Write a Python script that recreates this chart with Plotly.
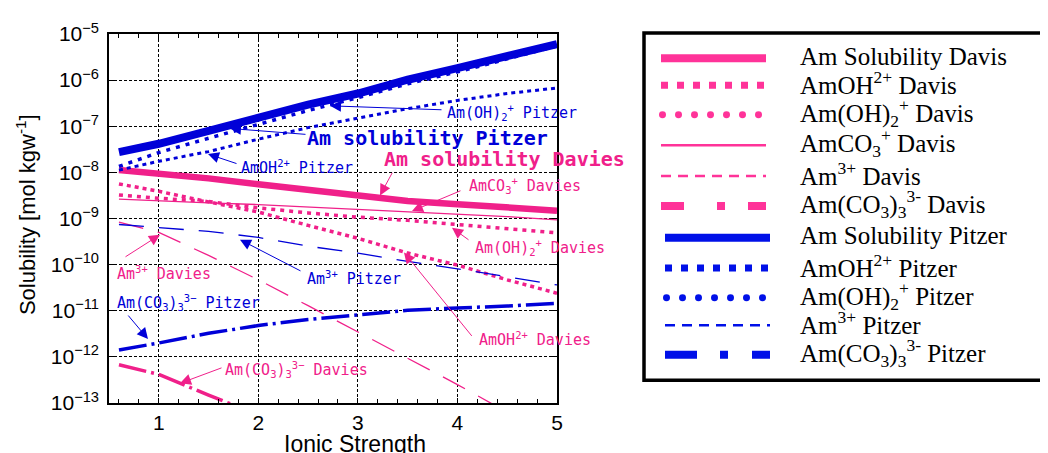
import plotly.graph_objects as go

# ---------------- data ----------------
ionic_strength = [0.6, 1.0, 1.5, 2.0, 2.5, 3.0, 3.5, 4.0, 4.5, 5.0]

am_sol_davies   = [1.12e-8, 9.55e-9, 7.41e-9, 5.50e-9, 4.07e-9, 3.09e-9, 2.40e-9, 2.04e-9, 1.74e-9, 1.48e-9]
amoh_davies     = [5.62e-9, 3.89e-9, 2.29e-9, 1.38e-9, 7.08e-10, 3.72e-10, 1.78e-10, 9.77e-11, 4.68e-11, 2.40e-11]
amoh2_davies    = [3.24e-9, 2.75e-9, 2.34e-9, 1.70e-9, 1.32e-9, 1.07e-9, 9.12e-10, 7.41e-10, 6.03e-10, 4.90e-10]
amco3_davies    = [2.63e-9, 2.40e-9, 2.19e-9, 2.00e-9, 1.78e-9, 1.58e-9, 1.41e-9, 1.26e-9, 1.10e-9, 9.33e-10]
am3_davies      = [8.32e-10, 5.01e-10, 1.58e-10, 4.68e-11, 1.29e-11, 3.47e-12, 9.55e-13, 2.51e-13, 6.31e-14, None]
amco33_davies   = [6.76e-13, 4.17e-13, 1.48e-13, 5.50e-14, None, None, None, None, None, None]

am_sol_pitzer   = [2.75e-8, 4.17e-8, 7.94e-8, 1.58e-7, 2.95e-7, 5.13e-7, 1.02e-6, 1.82e-6, 3.16e-6, 6.03e-6]
amoh_pitzer     = [1.12e-8, 1.74e-8, 2.82e-8, 5.25e-8, 9.33e-8, 1.48e-7, 2.40e-7, 3.63e-7, 5.13e-7, 6.76e-7]
amoh2_pitzer    = [1.35e-8, 2.69e-8, 5.50e-8, 1.12e-7, 2.19e-7, 4.17e-7, 8.32e-7, 1.51e-6, 2.88e-6, 5.50e-6]
am3_pitzer      = [7.41e-10, 6.46e-10, 5.25e-10, 3.89e-10, 2.51e-10, 1.78e-10, 1.17e-10, 8.13e-11, 5.50e-11, 3.63e-11]
amco33_pitzer   = [1.41e-12, 2.00e-12, 3.24e-12, 4.79e-12, 6.46e-12, 8.13e-12, 1.02e-11, 1.15e-11, 1.26e-11, 1.45e-11]

y_tick_vals = [1e-13, 1e-12, 1e-11, 1e-10, 1e-9, 1e-8, 1e-7, 1e-6, 1e-5]
y_tick_text = ["10<sup>\u221213</sup>", "10<sup>\u221212</sup>", "10<sup>\u221211</sup>",
               "10<sup>\u221210</sup>", "10<sup>\u22129</sup>", "10<sup>\u22128</sup>",
               "10<sup>\u22127</sup>", "10<sup>\u22126</sup>", "10<sup>\u22125</sup>"]
x_tick_vals = [1, 2, 3, 4, 5]

legend_labels = [
    "Am Solubility Davis", "AmOH<sup>2+</sup> Davis", "Am(OH)<sub>2</sub><sup>+</sup> Davis",
    "AmCO<sub>3</sub><sup>+</sup> Davis", "Am<sup>3+</sup> Davis", "Am(CO<sub>3</sub>)<sub>3</sub><sup>3-</sup> Davis",
    "Am Solubility Pitzer", "AmOH<sup>2+</sup> Pitzer", "Am(OH)<sub>2</sub><sup>+</sup> Pitzer",
    "Am<sup>3+</sup> Pitzer", "Am(CO<sub>3</sub>)<sub>3</sub><sup>3-</sup> Pitzer",
]

# ---------------- styles ----------------
PINK = "#F0208A"
PINK_L = "#FF3399"
BLUE = "#0000D8"
BLUE_L = "#0010E8"

series = [
    ("Am Solubility Davis", am_sol_davies, PINK, 6.5, "solid"),
    ("AmOH2+ Davis", amoh_davies, PINK, 3.5, "4px,4px"),
    ("Am(OH)2+ Davis", amoh2_davies, PINK, 3.5, "4px,5px"),
    ("AmCO3+ Davis", amco3_davies, PINK, 1.3, "solid"),
    ("Am3+ Davis", am3_davies, PINK, 1.3, "25px,15px"),
    ("Am(CO3)3 3- Davis", amco33_davies, PINK, 3.5, "28px,5px,3px,5px"),
    ("Am Solubility Pitzer", am_sol_pitzer, BLUE, 8, "solid"),
    ("AmOH2+ Pitzer", amoh_pitzer, BLUE, 3, "4px,4px"),
    ("Am(OH)2+ Pitzer", amoh2_pitzer, BLUE, 3.5, "4px,6px"),
    ("Am3+ Pitzer", am3_pitzer, BLUE, 1.3, "25px,15px"),
    ("Am(CO3)3 3- Pitzer", amco33_pitzer, BLUE, 3.5, "28px,5px,3px,5px"),
]

fig = go.Figure()
for name, vals, col, w, dash in series:
    fig.add_trace(go.Scatter(x=ionic_strength, y=vals, mode="lines", name=name,
                             line=dict(color=col, width=w, dash=dash),
                             showlegend=False, connectgaps=False))

# page offset (browser body margin) and plot-area geometry in screen pixels
OFF = 8
L, T, W, H = 109, 28, 448, 375
FIG_W, FIG_H = 1048 - OFF, 453 - OFF

def px(xp):
    return (xp - L) / W

def py(yp):
    return (T + H - yp) / H

annotations = []

MONO = "DejaVu Sans Mono"
texts = [
    ("Am(OH)<sub>2</sub><sup>+</sup> Pitzer", BLUE, 512, 108, 15, False),
    ("Am solubility Pitzer", BLUE, 427, 134, 20, True),
    ("AmOH<sup>2+</sup> Pitzer", BLUE, 297, 163, 15, False),
    ("Am solubility Davies", PINK, 504, 155, 20, True),
    ("AmCO<sub>3</sub><sup>+</sup> Davies", PINK, 525, 182, 15, False),
    ("Am(OH)<sub>2</sub><sup>+</sup> Davies", PINK, 540, 245, 15, False),
    ("AmOH<sup>2+</sup> Davies", PINK, 535, 338, 15, False),
    ("Am<sup>3+</sup> Pitzer", BLUE, 354, 276, 15, False),
    ("Am<sup>3+</sup> Davies", PINK, 164, 271, 15, False),
    ("Am(CO<sub>3</sub>)<sub>3</sub><sup>3\u2212</sup> Pitzer", BLUE, 188, 301, 15, False),
    ("Am(CO<sub>3</sub>)<sub>3</sub><sup>3\u2212</sup> Davies", PINK, 296, 369, 15, False),
]
for t, col, cx, cy, sz, bold in texts:
    annotations.append(dict(text=("<b>%s</b>" % t) if bold else t, x=px(cx), y=py(cy),
                            xref="paper", yref="paper", showarrow=False,
                            xanchor="center", yanchor="middle",
                            font=dict(family=MONO, size=sz, color=col)))

arrows = [
    (BLUE, (443, 105), (330, 101)),
    (BLUE, (307, 130), (230, 124)),
    (BLUE, (238, 160), (208, 150)),
    (PINK, (393, 168), (380, 192)),
    (PINK, (462, 187), (412, 208)),
    (PINK, (470, 238), (452, 225)),
    (PINK, (473, 335), (404, 250)),
    (BLUE, (302, 269), (240, 237)),
    (PINK, (124, 255), (160, 232)),
    (BLUE, (127, 313), (148, 338)),
    (PINK, (223, 367), (180, 383)),
]
for col, (tx, ty), (hx, hy) in arrows:
    annotations.append(dict(text="", x=px(hx), y=py(hy), xref="paper", yref="paper",
                            showarrow=True, ax=tx - hx, ay=ty - hy,
                            arrowcolor=col, arrowwidth=1, arrowhead=2, arrowsize=2.2))

annotations.append(dict(text="Ionic Strength", x=px(355), y=py(445), xref="paper", yref="paper",
                        showarrow=False, xanchor="center", yanchor="middle",
                        font=dict(family="Liberation Sans", size=23, color="black")))
annotations.append(dict(text="Solubility [mol kgw<sup>-1</sup>]", x=px(26), y=py(212),
                        xref="paper", yref="paper", showarrow=False, textangle=-90,
                        xanchor="center", yanchor="middle",
                        font=dict(family="Liberation Sans", size=22, color="black")))

# ---------------- manual legend ----------------
shapes = []
shapes.append(dict(type="rect", xref="paper", yref="paper", x0=px(644), x1=px(1045),
                   y0=py(380), y1=py(27), line=dict(color="black", width=3.5),
                   fillcolor="white", layer="below"))
row_y = [52.7, 80, 110, 141, 172.3, 202.7, 235, 265.7, 296, 324, 354]
legend_styles = [
    (PINK_L, 8, "solid", "line"),
    (PINK_L, 7, "7px,9px", "line"),
    (PINK_L, 7, None, "dots"),
    (PINK_L, 2.5, "solid", "line"),
    (PINK_L, 2.5, "10px,7px", "line"),
    (PINK_L, 8, "23px,33px,8px,23px", "line"),
    (BLUE_L, 8, "solid", "line"),
    (BLUE_L, 7, "7px,9px", "line"),
    (BLUE_L, 7, None, "dots"),
    (BLUE_L, 2.5, "10px,7px", "line"),
    (BLUE_L, 8, "32px,23px,8px,24px", "line"),
]
for i, (lab, yy, (col, w, dash, kind)) in enumerate(zip(legend_labels, row_y, legend_styles)):
    x0, x1 = (661, 766) if i < 6 else (665, 770)
    if kind == "line":
        shapes.append(dict(type="line", xref="paper", yref="paper", x0=px(x0), x1=px(x1),
                           y0=py(yy), y1=py(yy), line=dict(color=col, width=w, dash=dash)))
    else:
        for k in range(7):
            cx = x0 + 1.5 + 16 * k
            r = w / 2
            shapes.append(dict(type="circle", xref="paper", yref="paper",
                               x0=px(cx - r), x1=px(cx + r), y0=py(yy + r), y1=py(yy - r),
                               fillcolor=col, line=dict(width=0)))
    annotations.append(dict(text=lab, x=px(798), y=py(yy), xref="paper", yref="paper",
                            showarrow=False, xanchor="left", yanchor="middle", yshift=2,
                            font=dict(family="Liberation Serif", size=25, color="black")))

fig.update_layout(
    width=FIG_W, height=FIG_H, autosize=False,
    margin=dict(l=L - OFF, r=FIG_W - (L - OFF) - W, t=T - OFF, b=FIG_H - (T - OFF) - H, pad=0),
    paper_bgcolor="white", plot_bgcolor="white",
    showlegend=False,
    annotations=annotations, shapes=shapes,
    xaxis=dict(range=[0.5, 5.0], tickvals=x_tick_vals, ticks="inside", ticklen=5,
               tickcolor="black", showline=True, linecolor="black", linewidth=1.5,
               mirror="allticks", showgrid=True, gridcolor="black", gridwidth=1,
               griddash="3px,2px", zeroline=False,
               minor=dict(dtick=0.2, tick0=0, ticks="inside", ticklen=4, tickcolor="black",
                          showgrid=False),
               tickfont=dict(family="Liberation Sans", size=21, color="black")),
    yaxis=dict(type="log", range=[-13, -5], tickvals=y_tick_vals, ticktext=y_tick_text,
               ticks="inside", ticklen=5, tickcolor="black", showline=True,
               linecolor="black", linewidth=1.5, mirror="allticks", showgrid=True,
               gridcolor="black", gridwidth=1, griddash="3px,2px", zeroline=False,
               ticklabelstandoff=4,
               tickfont=dict(family="Liberation Sans", size=21, color="black")),
)

fig.write_html("out.html")
